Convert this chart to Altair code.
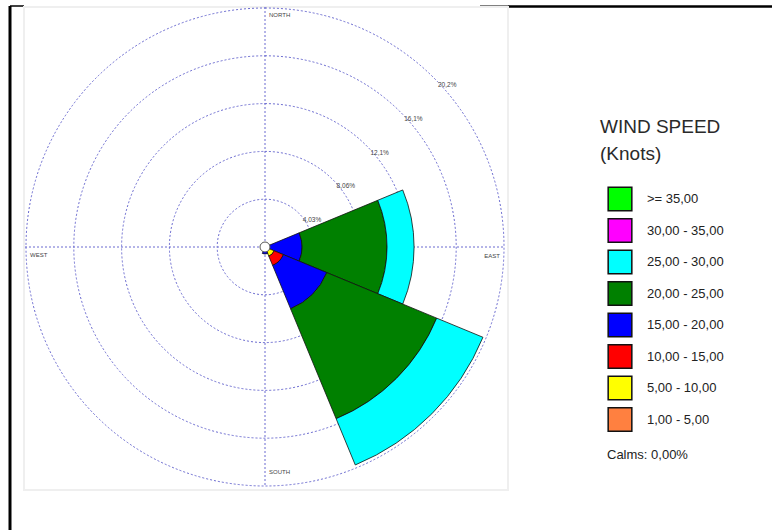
import math
import altair as alt
import pandas as pd

# ---------------- data ----------------
speed_classes = [">= 35,00", "30,00 - 35,00", "25,00 - 30,00", "20,00 - 25,00",
                 "15,00 - 20,00", "10,00 - 15,00", "5,00 - 10,00", "1,00 - 5,00"]
class_colors = ["#00ff00", "#ff00ff", "#00ffff", "#008000",
                "#0000ff", "#ff0000", "#ffff00", "#ff8040"]
# stacking order from centre outwards
stack_order = ["1,00 - 5,00", "5,00 - 10,00", "10,00 - 15,00", "15,00 - 20,00",
               "20,00 - 25,00", "25,00 - 30,00", "30,00 - 35,00", ">= 35,00"]

directions = ["N", "NE", "E", "SE", "S", "SW", "W", "NW"]
bearings = [0, 45, 90, 135, 180, 225, 270, 315]
# percent frequency per direction, per class (stack_order)
freq_N = [0, 0, 0, 0, 0, 0, 0, 0]
freq_NE = [0, 0, 0, 0, 0, 0, 0, 0]
freq_E = [0, 0, 0, 3.12, 7.17, 2.28, 0, 0]
freq_SE = [0, 0.84, 0.84, 3.96, 10.03, 4.22, 0, 0]
freq_S = [0, 0, 0, 0.59, 0, 0, 0, 0]
freq_SW = [0, 0, 0, 0, 0, 0, 0, 0]
freq_W = [0, 0, 0, 0, 0, 0, 0, 0]
freq_NW = [0, 0, 0, 0, 0, 0, 0, 0]
freqs = [freq_N, freq_NE, freq_E, freq_SE, freq_S, freq_SW, freq_W, freq_NW]

ring_values = [4.03, 8.06, 12.09, 16.12, 20.15]
ring_labels = ["4,03%", "8,06%", "12,1%", "16,1%", "20,2%"]
calms_text = "Calms: 0,00%"

# ---------------- tables ----------------
rows = []
for d, b, f in zip(directions, bearings, freqs):
    for cls, v in zip(stack_order, f):
        rows.append({"dir": d, "bearing": b, "cls": cls, "value": v})
wind = pd.DataFrame(rows)
wind["r1"] = wind.groupby("dir")["value"].cumsum()
wind["r0"] = wind["r1"] - wind["value"]
wind["t0"] = wind["bearing"] - 22.5
wind["t1"] = wind["bearing"] + 22.5
wind = wind[wind["value"] > 0]

rings = pd.DataFrame({"ring": ring_values, "label": ring_labels,
                      "t": [45] * len(ring_values)})

theta_scale = alt.Scale(domain=[0, 360], range=[0, 2 * math.pi])
r_scale = alt.Scale(type="linear", domain=[0, 20.15], range=[0, 239], zero=True)

GRID = "#6b6bd0"
FONT = "Liberation Sans"
W, H = 480, 480

one = pd.DataFrame({"a": [0]})

# frame lines
frame_left = alt.Chart(one).mark_rule(color="black", strokeWidth=3).encode(
    x=alt.value(-15), y=alt.value(-1), y2=alt.value(523))
frame_top1 = alt.Chart(one).mark_rule(color="black", strokeWidth=1.5).encode(
    x=alt.value(-15), x2=alt.value(-1), y=alt.value(-1))
frame_top2 = alt.Chart(one).mark_rule(color="black", strokeWidth=1).encode(
    x=alt.value(455), x2=alt.value(483), y=alt.value(-1))
frame_top3 = alt.Chart(one).mark_rule(color="black", strokeWidth=2.5).encode(
    x=alt.value(483), x2=alt.value(747), y=alt.value(-0.5))

bg = alt.Chart(one).mark_rect(fill="white", stroke="#efefef", strokeWidth=2).encode(
    x=alt.value(-1), x2=alt.value(483), y=alt.value(0), y2=alt.value(483))

grid_circles = alt.Chart(rings).mark_arc(
    filled=False, stroke=GRID, strokeWidth=1, strokeDash=[2, 2],
    theta=0, theta2=2 * math.pi
).encode(radius=alt.Radius("ring:Q", scale=r_scale, stack=None))

vline = alt.Chart(one).mark_rule(color=GRID, strokeWidth=1, strokeDash=[2, 2]).encode(
    x=alt.value(W / 2), y=alt.value(0), y2=alt.value(H))
hline = alt.Chart(one).mark_rule(color=GRID, strokeWidth=1, strokeDash=[2, 2]).encode(
    x=alt.value(0), x2=alt.value(W), y=alt.value(H / 2))

wedges = alt.Chart(wind).mark_arc(stroke="#111111", strokeWidth=0.8).encode(
    theta=alt.Theta("t0:Q", scale=theta_scale, stack=None),
    theta2="t1:Q",
    radius=alt.Radius("r1:Q", scale=r_scale, stack=None),
    radius2="r0:Q",
    color=alt.Color(
        "cls:N",
        scale=alt.Scale(domain=speed_classes, range=class_colors),
        legend=alt.Legend(
            orient="none", legendX=575, legendY=111, padding=0,
            title=["WIND SPEED", "(Knots)"],
            titleFont=FONT, titleFontSize=19, titleFontWeight="normal",
            titleColor="#2a2a2a", titleLineHeight=27, titlePadding=22,
            symbolType="square", symbolSize=560, symbolStrokeColor="#111111",
            symbolStrokeWidth=1.5, symbolOpacity=1, symbolOffset=7,
            labelFont=FONT, labelFontSize=13,
            labelColor="#222222", labelOffset=14, rowPadding=1.5,
        ),
    ),
)

calm = alt.Chart(one).mark_arc(
    fill="white", stroke="#555555", strokeWidth=1, theta=0, theta2=2 * math.pi
).encode(radius=alt.value(5))

ring_text = alt.Chart(rings).mark_text(
    align="left", baseline="top", dx=4, dy=4, fontSize=6.5,
    font=FONT, color="#444444"
).encode(
    theta=alt.Theta("t:Q", scale=theta_scale, stack=None),
    radius=alt.Radius("ring:Q", scale=r_scale, stack=None),
    text="label:N",
)


def dir_label(name, x, y, align):
    return alt.Chart(pd.DataFrame({"name": [name]})).mark_text(
        align=align, baseline="top", fontSize=6, font=FONT, color="#444444"
    ).encode(x=alt.value(x), y=alt.value(y), text="name:N")


north = dir_label("NORTH", 244, 5, "left")
west = dir_label("WEST", 5, 245, "left")
east = dir_label("EAST", 475, 246, "right")
south = dir_label("SOUTH", 244, 462, "left")

calms = alt.Chart(pd.DataFrame({"t": [calms_text]})).mark_text(
    align="left", baseline="middle", fontSize=13, font=FONT, color="#222222"
).encode(x=alt.value(582), y=alt.value(448), text="t:N")

chart = alt.layer(
    frame_left, frame_top1, frame_top2, frame_top3, bg,
    grid_circles, vline, hline, wedges, calm, ring_text,
    north, west, east, south, calms
).properties(
    width=W, height=H,
    padding={"left": 25, "top": 7, "right": 267, "bottom": 43},
    autosize="none",
).configure_view(stroke=None).configure(background="white")

chart.save("out.html", embed_options={"renderer": "svg", "actions": False})
